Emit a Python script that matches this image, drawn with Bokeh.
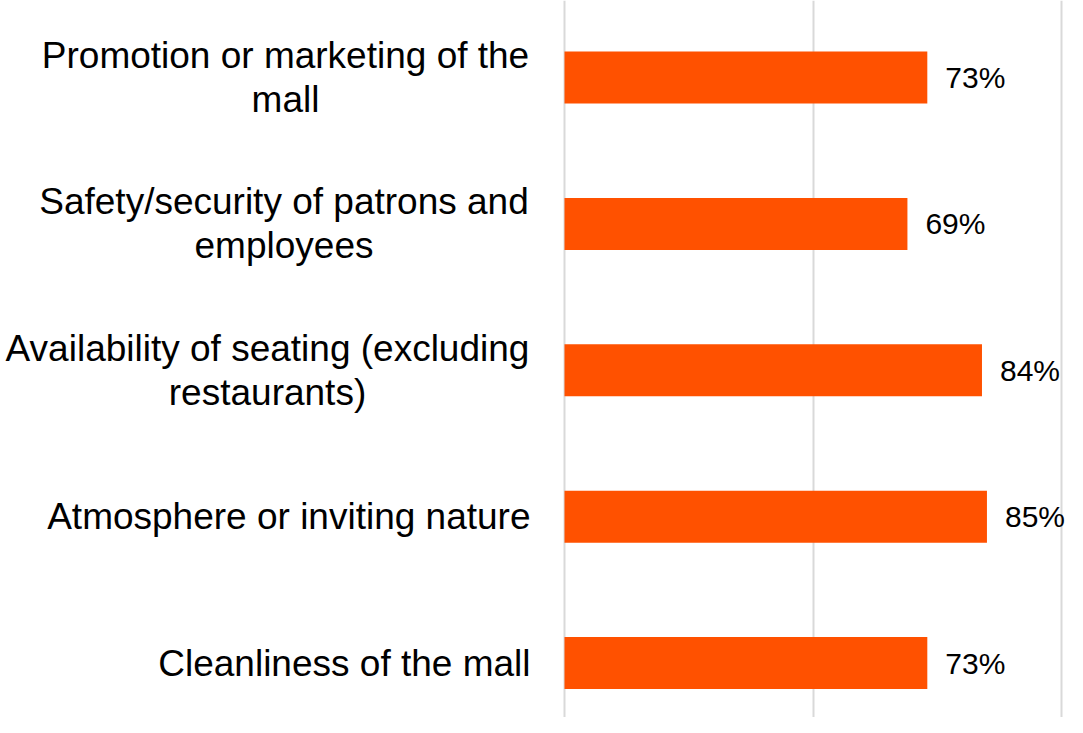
from bokeh.plotting import figure
from bokeh.models import ColumnDataSource, FixedTicker, Range1d, Grid
from bokeh.core.properties import value
from bokeh.embed import file_html
from bokeh.resources import INLINE

# ---- data ----
categories = [
    "Promotion or marketing of the\nmall",
    "Safety/security of patrons and\nemployees",
    "Availability of seating (excluding\nrestaurants)",
    "Atmosphere or inviting nature",
    "Cleanliness of the mall",
]
values = [73, 69, 84, 85, 73]
value_labels = ["73%", "69%", "84%", "85%", "73%"]
grid_ticks = [0, 50, 100]

# ---- layout (screen px) ----
W, H = 1067, 717
FONT = value("Liberation Sans")
ZERO_SCREEN = 564
PX_PER_UNIT = 4.97
label_centers = [285, 283.5, 267, None, None]   # screen x of centre for wrapped labels
LABEL_RIGHT = 530
LINE_H = 44
TOP_CENTER = 77      # screen y of first category centre
STEP = 146.4         # px between categories

positions = [len(categories) - 1 - i for i in range(len(categories))]
n_cat = len(categories)
y_top = (n_cat - 1) + TOP_CENTER / STEP
y_bot = (n_cat - 1) - (H - TOP_CENTER) / STEP
x_start = -ZERO_SCREEN / PX_PER_UNIT
x_end = (W - ZERO_SCREEN) / PX_PER_UNIT

p = figure(width=W, height=H, output_backend="svg", toolbar_location=None,
           x_range=Range1d(x_start, x_end), y_range=Range1d(y_bot, y_top),
           x_axis_location=None, y_axis_location=None,
           min_border=0, outline_line_color=None)
p.grid.grid_line_color = None
p.add_layout(Grid(dimension=0, ticker=FixedTicker(ticks=grid_ticks),
                  grid_line_color="#d9d9d9", grid_line_width=2))

src = ColumnDataSource(dict(y=positions, v=values, lab=value_labels))
p.hbar(y="y", left=0, right="v", height=52 / STEP, source=src,
       fill_color="#FF5100", line_color=None)
p.text(x="v", y="y", text="lab", source=src, x_offset=18,
       text_baseline="middle", text_align="left",
       text_font=FONT, text_font_size="30px", text_color="#000000")

# category labels, line by line
lx, ly, lt, lxo, lyo, la = [], [], [], [], [], []
for cat, pos, c in zip(categories, positions, label_centers):
    lines = cat.split("\n")
    n = len(lines)
    for j, line in enumerate(lines):
        lx.append(0)
        ly.append(pos)
        lt.append(line)
        lyo.append((j - (n - 1) / 2) * LINE_H)
        if n > 1:
            lxo.append(c - ZERO_SCREEN)
            la.append("center")
        else:
            lxo.append(LABEL_RIGHT - ZERO_SCREEN)
            la.append("right")
lsrc = ColumnDataSource(dict(x=lx, y=ly, t=lt, xo=lxo, yo=lyo, a=la))
p.text(x="x", y="y", text="t", source=lsrc, x_offset="xo", y_offset="yo",
       text_align="a", text_baseline="middle",
       text_font=FONT, text_font_size="37px", text_color="#000000")

open("out.html", "w").write(file_html(p, INLINE))
